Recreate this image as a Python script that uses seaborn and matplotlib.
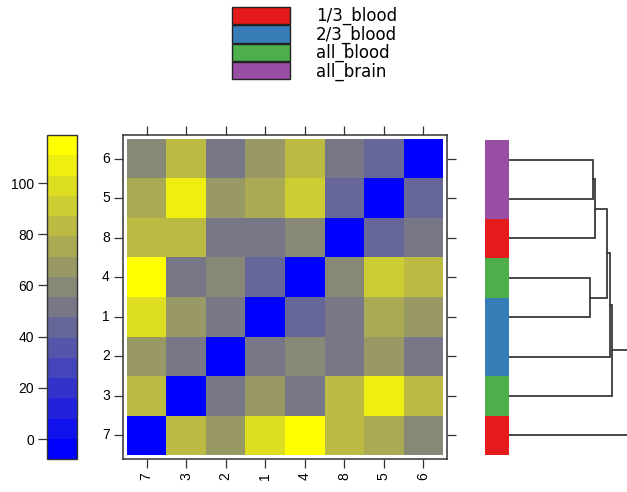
import numpy as np
import pandas as pd
import matplotlib
matplotlib.use("Agg")
import matplotlib.pyplot as plt
from matplotlib.colors import LinearSegmentedColormap, ListedColormap
from matplotlib.patches import Patch
import seaborn as sns

# Sample order: heatmap rows top to bottom, columns left to right
row_labels = ["6", "5", "8", "4", "1", "2", "3", "7"]
col_labels = ["7", "3", "2", "1", "4", "8", "5", "6"]

# Sample names 1..8 and their pairwise distances (upper triangle, row by row)
sample_ids = ["1", "2", "3", "4", "5", "6", "7", "8"]
upper_dist = [
    [50.5, 66.0, 40.5, 74.0, 67.0, 99.0, 49.0],   # 1 vs 2..8
    [51.5, 60.0, 68.0, 52.0, 69.0, 53.0],         # 2 vs 3..8
    [53.0, 106.0, 83.0, 86.0, 82.0],              # 3 vs 4..8
    [91.0, 84.0, 111.0, 58.0],                    # 4 vs 5..8
    [42.0, 75.0, 43.0],                           # 5 vs 6..8
    [60.0, 52.5],                                 # 6 vs 7..8
    [85.0],                                       # 7 vs 8
]

# Tissue group of every sample
sample_group = {"1": "2/3_blood", "2": "2/3_blood", "3": "all_blood", "4": "all_blood",
                "5": "all_brain", "6": "all_brain", "7": "1/3_blood", "8": "1/3_blood"}
group_names = ["1/3_blood", "2/3_blood", "all_blood", "all_brain"]
group_colors = ["#E41A1C", "#377EB8", "#4DAF4A", "#984EA3"]

colorbar_ticks = [0, 20, 40, 60, 80, 100]

# ---- full symmetric matrix ----
n = len(sample_ids)
full = np.zeros((n, n))
for i, row in enumerate(upper_dist):
    for k, v in enumerate(row):
        j = i + 1 + k
        full[i, j] = full[j, i] = v
dist = pd.DataFrame(full, index=sample_ids, columns=sample_ids)
heat = dist.loc[row_labels, col_labels]

# 16 colour levels from blue through grey to yellow over a padded range
zmin, zmax = full.min(), full.max()
pad = 0.07 * (zmax - zmin)
vmin, vmax = zmin - pad, zmax + pad
ramp = LinearSegmentedColormap.from_list("bgy", ["#0000FF", "#7F7F7F", "#FFFF00"])
cmap = ListedColormap(ramp(np.linspace(0, 1, 16)))

sns.set_style("ticks")
plt.rcParams["font.family"] = ["Liberation Sans", "DejaVu Sans"]

W, H = 627, 492
fig = plt.figure(figsize=(W / 100, H / 100), dpi=100)


def px_axes(x0, y0, x1, y1):
    return fig.add_axes([x0 / W, 1 - y1 / H, (x1 - x0) / W, (y1 - y0) / H])


ax = px_axes(123, 135, 447, 459)
cax = px_axes(47, 135, 77, 459)
sax = px_axes(485, 140, 509, 455)
dax = px_axes(509, 140, 627, 455)

tick_len = 6.5
sns.heatmap(heat, ax=ax, cmap=cmap, vmin=vmin, vmax=vmax, cbar_ax=cax,
            cbar_kws={"ticks": colorbar_ticks})
ax.set_xlim(-0.1, len(col_labels) + 0.1)
ax.set_ylim(len(row_labels) + 0.1, -0.1)
ax.set_xlabel("")
ax.set_ylabel("")
for s in ax.spines.values():
    s.set_visible(True)
    s.set_linewidth(1.1)
    s.set_color("#333333")
ax.tick_params(axis="both", which="both", direction="out", length=tick_len, width=0.9,
               color="#333333", labelsize=10, labelcolor="black",
               top=True, right=True, bottom=True, left=True,
               labeltop=False, labelright=False, pad=3)
ax.set_xticklabels(col_labels, rotation=90)
ax.set_yticklabels(row_labels, rotation=0)

# Colour key on the left
cbar = ax.collections[0].colorbar
cbar.outline.set_visible(True)
cbar.outline.set_linewidth(1.0)
cbar.outline.set_edgecolor("#333333")
cax.yaxis.set_ticks_position("left")
cax.yaxis.set_label_position("left")
cax.tick_params(direction="out", length=tick_len, width=0.9, color="#333333",
                labelsize=10, labelcolor="black", pad=3)

# Group colour strip beside the rows
codes = np.array([group_names.index(sample_group[s]) for s in row_labels])[:, None]
sns.heatmap(codes, ax=sax, cmap=ListedColormap(group_colors), vmin=-0.5, vmax=3.5,
            cbar=False, xticklabels=False, yticklabels=False)
sax.set_axis_off()

# Single-linkage dendrogram of the rows
D = heat.loc[row_labels, row_labels].to_numpy()
clusters = {i: [i] for i in range(len(row_labels))}
node_pos = {i: (0.0, i + 0.5) for i in range(len(row_labels))}
next_id = len(row_labels)
while len(clusters) > 1:
    keys = list(clusters)
    best = None
    for ai in range(len(keys)):
        for bi in range(ai + 1, len(keys)):
            a, b = keys[ai], keys[bi]
            d = D[np.ix_(clusters[a], clusters[b])].min()
            if best is None or d < best[0]:
                best = (d, a, b)
    d, a, b = best
    (ha, ya), (hb, yb) = node_pos[a], node_pos[b]
    dax.plot([ha, d, d, hb], [ya, ya, yb, yb], color="#3a3a3a", lw=1.3,
             solid_joinstyle="miter")
    clusters[next_id] = clusters.pop(a) + clusters.pop(b)
    node_pos[next_id] = (d, (ya + yb) / 2)
    next_id += 1
dax.set_xlim(0, 59)
dax.set_ylim(len(row_labels), 0)
dax.set_axis_off()

# Group legend at the top
fs = 12
fs_px = fs * 100 / 72
handles = [Patch(facecolor=c, edgecolor="#222222", linewidth=1.0) for c in group_colors]
leg = fig.legend(handles, group_names, loc="upper left",
                 bbox_to_anchor=(232 / W, 1 - 7 / H), frameon=False,
                 prop={"family": ["DejaVu Sans"], "size": fs},
                 handlelength=58 / fs_px, handleheight=20 / fs_px, labelspacing=0,
                 handletextpad=26 / fs_px, borderpad=0, borderaxespad=0)
for t in leg.get_texts():
    t.set_color("black")

fig.savefig("out.png", dpi=100)
